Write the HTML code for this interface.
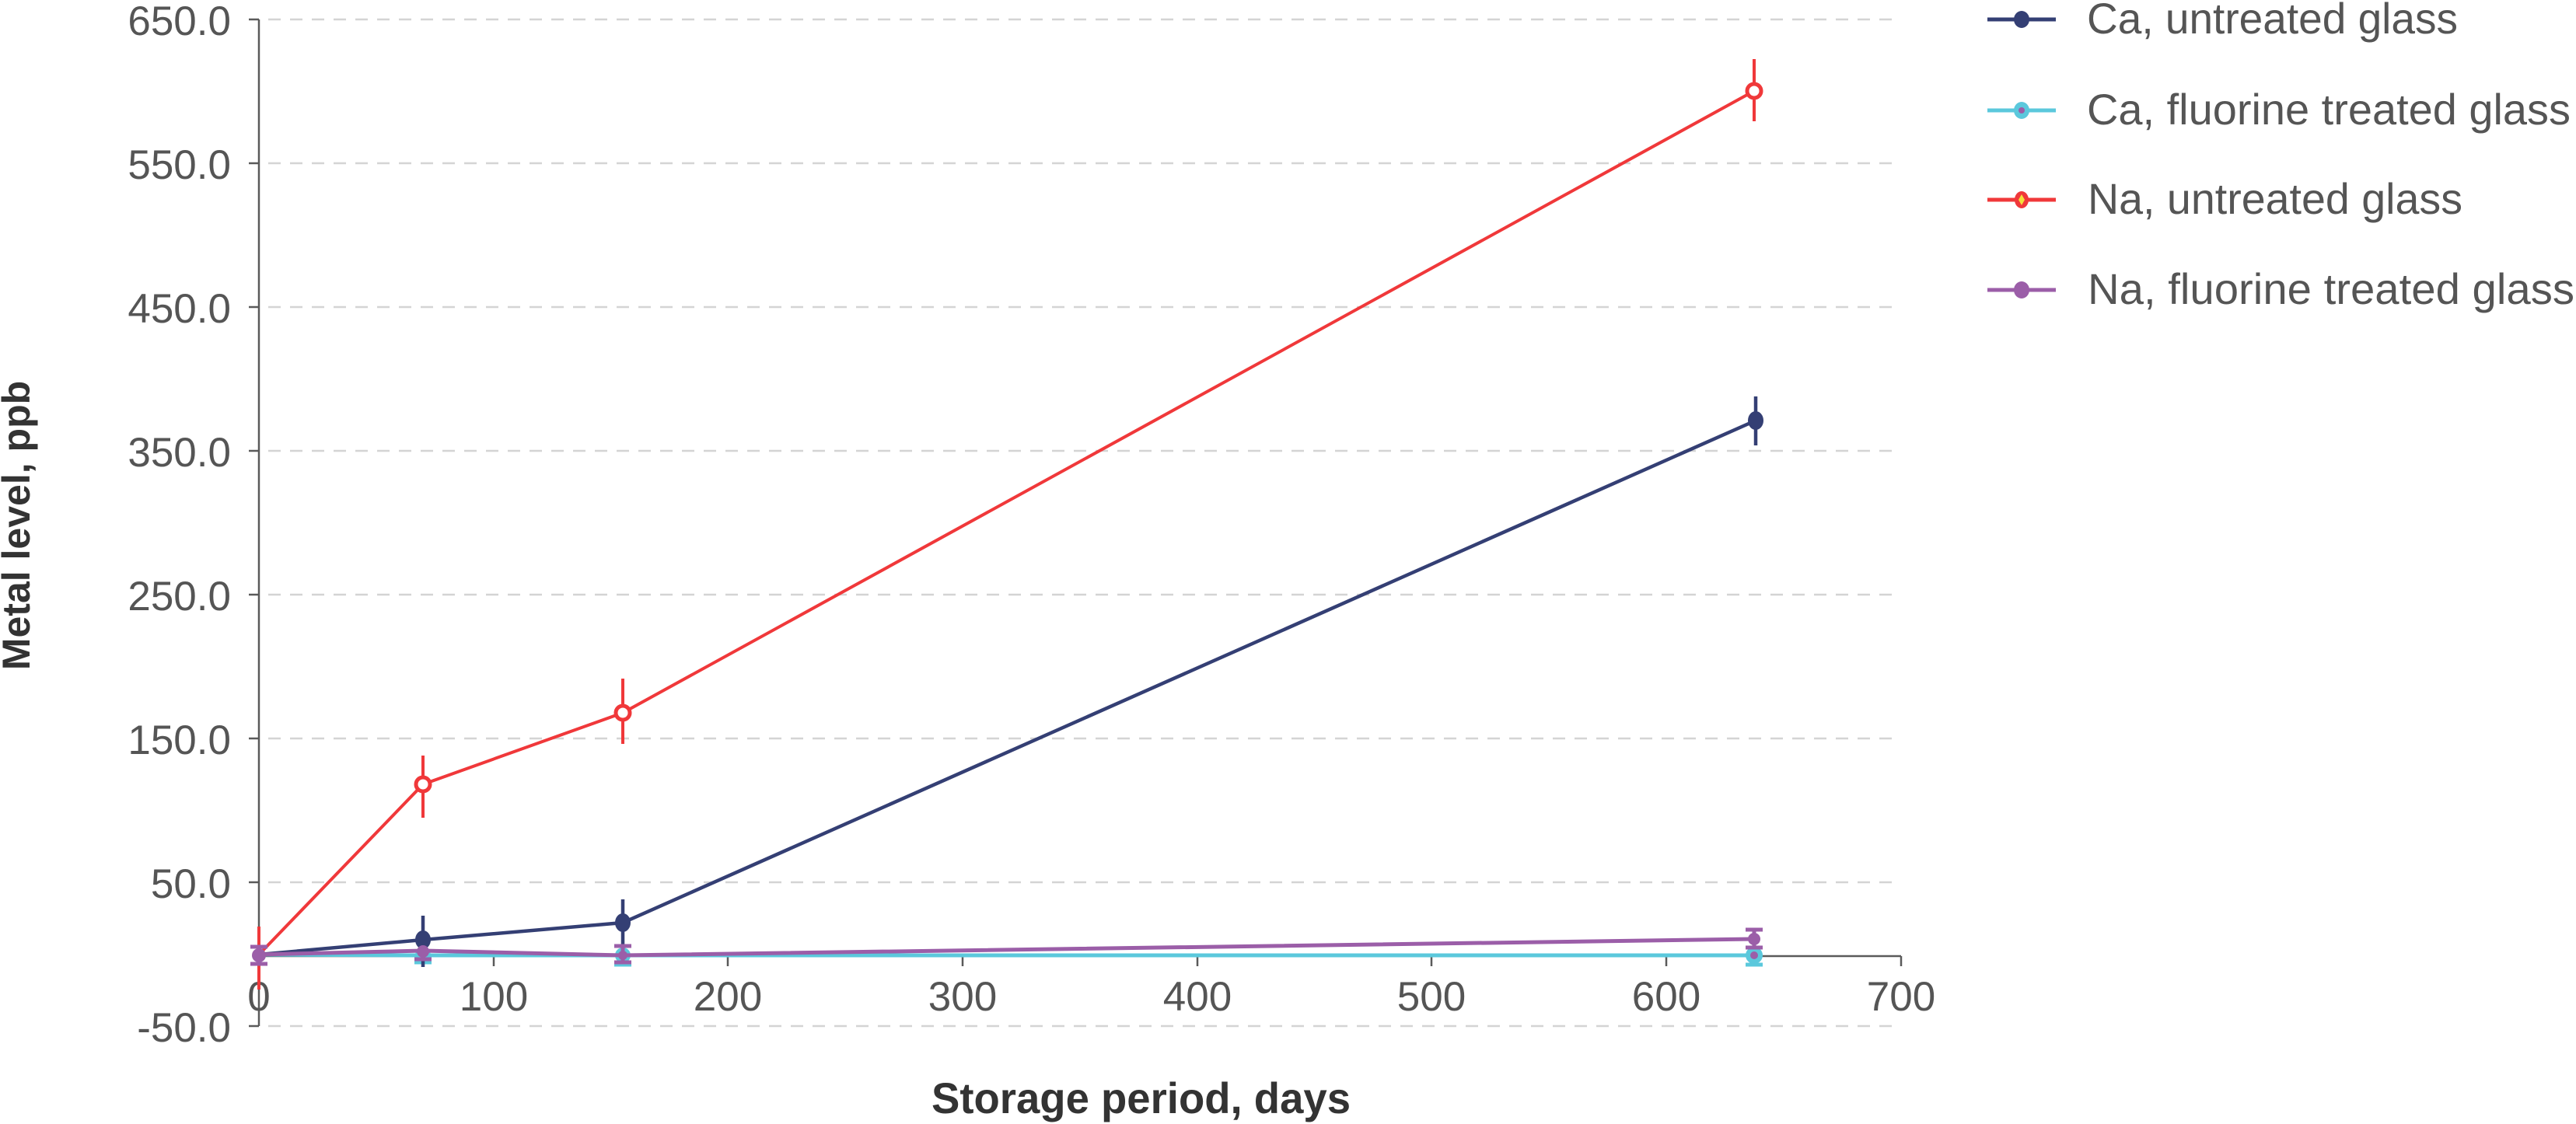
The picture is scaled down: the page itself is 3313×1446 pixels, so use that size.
<!DOCTYPE html>
<html><head><meta charset="utf-8"><style>html,body{margin:0;padding:0;background:#fff}svg{display:block}</style></head>
<body>
<svg width="3313" height="1446" viewBox="0 0 3313 1446" xmlns="http://www.w3.org/2000/svg" font-family="Liberation Sans, sans-serif">
<g stroke="#d4d4d4" stroke-width="2.5" stroke-dasharray="16,12">
<line x1="345" y1="25" x2="2445" y2="25"/><line x1="345" y1="210" x2="2445" y2="210"/>
<line x1="345" y1="395" x2="2445" y2="395"/><line x1="345" y1="580" x2="2445" y2="580"/>
<line x1="345" y1="765" x2="2445" y2="765"/><line x1="345" y1="950" x2="2445" y2="950"/>
<line x1="345" y1="1135" x2="2445" y2="1135"/><line x1="345" y1="1320" x2="2445" y2="1320"/>
</g>
<g stroke="#5a5a5a" stroke-width="2.5" fill="none">
<line x1="333" y1="25" x2="333" y2="1320"/>
<line x1="320" y1="25" x2="333" y2="25"/><line x1="320" y1="210" x2="333" y2="210"/>
<line x1="320" y1="395" x2="333" y2="395"/><line x1="320" y1="580" x2="333" y2="580"/>
<line x1="320" y1="765" x2="333" y2="765"/><line x1="320" y1="950" x2="333" y2="950"/>
<line x1="320" y1="1135" x2="333" y2="1135"/><line x1="320" y1="1320" x2="333" y2="1320"/>
<line x1="333" y1="1230" x2="2445" y2="1230"/>
<line x1="333" y1="1230" x2="333" y2="1243"/><line x1="635" y1="1230" x2="635" y2="1243"/>
<line x1="936" y1="1230" x2="936" y2="1243"/><line x1="1238" y1="1230" x2="1238" y2="1243"/>
<line x1="1540" y1="1230" x2="1540" y2="1243"/><line x1="1841" y1="1230" x2="1841" y2="1243"/>
<line x1="2143" y1="1230" x2="2143" y2="1243"/><line x1="2445" y1="1230" x2="2445" y2="1243"/>
</g>
<g fill="#555" font-size="53" text-anchor="end">
<text x="297" y="45">650.0</text><text x="297" y="230">550.0</text><text x="297" y="415">450.0</text>
<text x="297" y="600">350.0</text><text x="297" y="785">250.0</text><text x="297" y="970">150.0</text>
<text x="297" y="1155">50.0</text><text x="297" y="1340">-50.0</text>
</g>
<g fill="#555" font-size="53" text-anchor="middle">
<text x="333" y="1300">0</text><text x="635" y="1300">100</text><text x="936" y="1300">200</text>
<text x="1238" y="1300">300</text><text x="1540" y="1300">400</text><text x="1841" y="1300">500</text>
<text x="2143" y="1300">600</text><text x="2445" y="1300">700</text>
</g>
<text x="1198" y="1432" font-size="56" font-weight="bold" fill="#333" textLength="539" lengthAdjust="spacingAndGlyphs">Storage period, days</text>
<text transform="translate(38,676) rotate(-90)" font-size="50" font-weight="bold" fill="#333" text-anchor="middle">Metal level, ppb</text>

<!-- Ca fluorine -->
<g stroke="#5bc8dc" stroke-width="5" fill="none">
<polyline points="333,1228 544,1229 801,1229 2256,1229"/>
<line x1="801" y1="1215" x2="801" y2="1241"/><line x1="790" y1="1241" x2="812" y2="1241"/>
<line x1="544" y1="1220" x2="544" y2="1238"/><line x1="533" y1="1238" x2="555" y2="1238"/>
<line x1="2256" y1="1218" x2="2256" y2="1241"/><line x1="2245" y1="1241" x2="2267" y2="1241"/>
</g>
<g fill="#5bc8dc"><circle cx="544" cy="1229" r="10"/><circle cx="801" cy="1229" r="10"/><circle cx="2256" cy="1229" r="11"/></g>
<circle cx="2256" cy="1229" r="5" fill="#9b5ea8"/>
<!-- Ca untreated -->
<g stroke="#343f74" stroke-width="4.5" fill="none">
<polyline points="333,1228 544,1209 801,1187 2258,541"/>
<line x1="544" y1="1178" x2="544" y2="1244"/><line x1="801" y1="1157" x2="801" y2="1222"/>
<line x1="2258" y1="510" x2="2258" y2="573"/>
</g>
<g fill="#343f74"><ellipse cx="544" cy="1209" rx="10" ry="12"/><ellipse cx="801" cy="1187" rx="10" ry="12"/><ellipse cx="2258" cy="541" rx="10" ry="12"/></g>
<!-- Na untreated -->
<g stroke="#f0383a" stroke-width="4" fill="none">
<polyline points="333,1228 544,1009 801,917 2256,117"/>
<line x1="333" y1="1192" x2="333" y2="1273"/><line x1="544" y1="972" x2="544" y2="1052"/>
<line x1="801" y1="873" x2="801" y2="957"/><line x1="2256" y1="76" x2="2256" y2="156"/>
</g>
<g fill="#fff" stroke="#f0383a" stroke-width="5"><circle cx="544" cy="1009" r="9"/><circle cx="801" cy="917" r="9"/><circle cx="2256" cy="117" r="9"/></g>
<!-- Na fluorine -->
<g stroke="#9b5ea8" stroke-width="5" fill="none">
<polyline points="333,1228 544,1223 801,1229 2256,1208"/>
<line x1="333" y1="1218" x2="333" y2="1240"/><line x1="322" y1="1218" x2="344" y2="1218"/><line x1="322" y1="1240" x2="344" y2="1240"/>
<line x1="544" y1="1223" x2="544" y2="1234"/><line x1="533" y1="1234" x2="555" y2="1234"/>
<line x1="801" y1="1217" x2="801" y2="1238"/><line x1="790" y1="1217" x2="812" y2="1217"/><line x1="790" y1="1238" x2="812" y2="1238"/>
<line x1="2256" y1="1196" x2="2256" y2="1219"/><line x1="2245" y1="1196" x2="2267" y2="1196"/><line x1="2245" y1="1219" x2="2267" y2="1219"/>
</g>
<g fill="#9b5ea8"><circle cx="333" cy="1229" r="9"/><circle cx="544" cy="1224" r="8"/><circle cx="801" cy="1229" r="6"/><circle cx="2256" cy="1208" r="8"/></g>

<!-- Legend -->
<g stroke-width="5">
<line x1="2556" y1="25" x2="2644" y2="25" stroke="#343f74"/>
<line x1="2556" y1="142" x2="2644" y2="142" stroke="#5bc8dc"/>
<line x1="2556" y1="257" x2="2644" y2="257" stroke="#f0383a"/>
<line x1="2556" y1="373" x2="2644" y2="373" stroke="#9b5ea8"/>
</g>
<ellipse cx="2600" cy="25" rx="10" ry="11" fill="#343f74"/>
<ellipse cx="2600" cy="142" rx="10" ry="11" fill="#5bc8dc"/><circle cx="2600" cy="142" r="4" fill="#9b5ea8"/>
<ellipse cx="2600" cy="257" rx="9" ry="11" fill="#f0383a"/><path d="M2600,250 L2604,257 L2600,264 L2596,257Z" fill="#f5e03a"/>
<ellipse cx="2600" cy="373" rx="10" ry="11" fill="#9b5ea8"/>
<g fill="#555" font-size="56">
<text x="2684" y="43" textLength="477" lengthAdjust="spacingAndGlyphs">Ca, untreated glass</text>
<text x="2684" y="160" textLength="622" lengthAdjust="spacingAndGlyphs">Ca, fluorine treated glass</text>
<text x="2685" y="275" textLength="482" lengthAdjust="spacingAndGlyphs">Na, untreated glass</text>
<text x="2685" y="391" textLength="626" lengthAdjust="spacingAndGlyphs">Na, fluorine treated glass</text>
</g>
</svg>
</body></html>
